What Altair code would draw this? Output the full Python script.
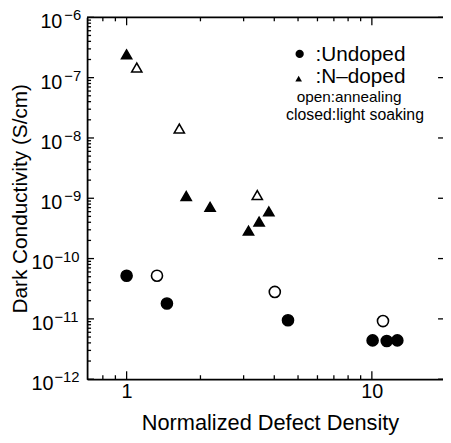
import altair as alt
import pandas as pd

# ---- data ----
undoped_closed_x = [1.0, 1.46, 4.55, 10.07, 11.5, 12.7]
undoped_closed_y = [5.2e-11, 1.8e-11, 9.5e-12, 4.4e-12, 4.3e-12, 4.4e-12]
undoped_open_x = [1.33, 4.02, 11.1]
undoped_open_y = [5.2e-11, 2.8e-11, 9.2e-12]
ndoped_closed_x = [1.0, 1.75, 2.19, 3.14, 3.47, 3.80]
ndoped_closed_y = [2.43e-7, 1.09e-9, 7.2e-10, 2.9e-10, 4.1e-10, 6.05e-10]
ndoped_open_x = [1.10, 1.64, 3.41]
ndoped_open_y = [1.47e-7, 1.43e-8, 1.13e-9]

y_exponents = [-6, -7, -8, -9, -10, -11, -12]
minor_mult = [2, 3, 4, 5, 6, 7, 8, 9]
x_major = [1, 10]
x_minor = [0.8, 0.9, 2, 3, 4, 5, 6, 7, 8, 9]
legend_lines = [":Undoped", ":N\u2013doped", "open:annealing", "closed:light soaking"]
x_title = "Normalized Defect Density"
y_title = "Dark Conductivity (S/cm)"

FONT = "Liberation Sans"
W, H = 360, 366

rows = []
for xs, ys, dop, st in [
    (undoped_closed_x, undoped_closed_y, "Undoped", "light soaking"),
    (undoped_open_x, undoped_open_y, "Undoped", "annealing"),
    (ndoped_closed_x, ndoped_closed_y, "N-doped", "light soaking"),
    (ndoped_open_x, ndoped_open_y, "N-doped", "annealing"),
]:
    for a, b in zip(xs, ys):
        rows.append({"x": a, "y": b, "dopant": dop, "state": st})
df = pd.DataFrame(rows)

xscale = alt.Scale(type="log", domain=[0.69, 19.5], nice=False)
yscale = alt.Scale(type="log", domain=[1e-12, 1e-6], nice=False)

xaxis = alt.Axis(
    values=x_major, format="d", ticks=False, grid=False,
    domain=True, domainColor="black", domainWidth=1.8,
    labelFont=FONT, labelFontSize=20, labelColor="black", labelPadding=3,
    title=x_title, titleFont=FONT, titleFontSize=22, titleFontWeight="normal",
    titleColor="black", titleX=185, titleY=51, titleBaseline="alphabetic", titleAlign="center")
yaxis = alt.Axis(
    labels=False, ticks=False, grid=False,
    domain=True, domainColor="black", domainWidth=1.8,
    title=y_title, titleFont=FONT, titleFontSize=21, titleFontWeight="normal",
    titleColor="black", titleX=-67, titleY=H / 2, titleAngle=-90,
    titleAlign="center", titleBaseline="middle")

def X(f):
    return alt.X(f, scale=xscale, axis=xaxis, title=x_title)

def Y(f):
    return alt.Y(f, scale=yscale, axis=yaxis, title=y_title)

points = alt.Chart(df).mark_point(filled=True, opacity=1, strokeWidth=1.6, stroke="black").encode(
    x=X("x:Q"),
    y=Y("y:Q"),
    shape=alt.Shape("dopant:N", scale=alt.Scale(domain=["Undoped", "N-doped"], range=["circle", "triangle-up"]), legend=None),
    fill=alt.Fill("state:N", scale=alt.Scale(domain=["light soaking", "annealing"], range=["black", "white"]), legend=None),
    size=alt.Size("dopant:N", scale=alt.Scale(domain=["Undoped", "N-doped"], range=[125, 105]), legend=None),
)

# ---- inward ticks ----
ymaj = pd.DataFrame({"v": [10.0 ** e for e in y_exponents]})
ymin = pd.DataFrame({"v": [m * 10.0 ** e for e in y_exponents if e < -6 for m in minor_mult]})
xmaj = pd.DataFrame({"v": x_major})
xmin = pd.DataFrame({"v": x_minor})

def yrule(d, x1, x2, sw=1.3):
    return alt.Chart(d).mark_rule(color="black", strokeWidth=sw).encode(
        y=Y("v:Q"), x=alt.value(x1), x2=alt.value(x2))

def xrule(d, y1, y2, sw=1.3):
    return alt.Chart(d).mark_rule(color="black", strokeWidth=sw).encode(
        x=X("v:Q"), y=alt.value(y1), y2=alt.value(y2))

ticks = [
    yrule(ymaj, 0, 7), yrule(ymin, 0, 4),
    yrule(ymaj, W, W - 5),
    xrule(xmaj, H, H - 8), xrule(xmin, H, H - 4),
    xrule(xmaj, 0, 8), xrule(xmin, 0, 4),
]

one = pd.DataFrame({"a": [0]})
top_border = alt.Chart(one).mark_rule(color="black", strokeWidth=1.8).encode(
    x=alt.value(0), x2=alt.value(W), y=alt.value(0))

# ---- y tick labels 10^n ----
lab = pd.DataFrame({"e": y_exponents})
lab["v"] = [10.0 ** e for e in y_exponents]
lab["lab"] = ["\u2212" + str(-e) for e in y_exponents]
single = lab[lab["e"] > -10]
double = lab[lab["e"] <= -10]

def ten(d, xp):
    return alt.Chart(d).mark_text(text="10", align="right", baseline="alphabetic", dy=11,
                                  font=FONT, fontSize=20, color="black").encode(
        y=Y("v:Q"), x=alt.value(xp))

def expo(d, xp):
    return alt.Chart(d).mark_text(align="left", baseline="alphabetic", dy=3,
                                  font=FONT, fontSize=15, color="black").encode(
        y=Y("v:Q"), x=alt.value(xp), text="lab:N")

ylabels = [ten(single, -25), expo(single, -23), ten(double, -34), expo(double, -33)]

# ---- legend / annotation ----
leg = [
    alt.Chart(one).mark_point(shape="circle", filled=True, size=70, color="black", opacity=1).encode(
        x=alt.value(215), y=alt.value(37)),
    alt.Chart(one).mark_point(shape="triangle-up", filled=True, size=45, color="black", opacity=1).encode(
        x=alt.value(214), y=alt.value(62)),
    alt.Chart(one).mark_text(text=legend_lines[0], align="right", baseline="alphabetic",
                             font=FONT, fontSize=21, color="black").encode(x=alt.value(322), y=alt.value(44)),
    alt.Chart(one).mark_text(text=legend_lines[1], align="right", baseline="alphabetic",
                             font=FONT, fontSize=21, color="black").encode(x=alt.value(322), y=alt.value(66)),
    alt.Chart(one).mark_text(text=legend_lines[2], align="center", baseline="alphabetic",
                             font=FONT, fontSize=15.5, color="black").encode(x=alt.value(265), y=alt.value(86)),
    alt.Chart(one).mark_text(text=legend_lines[3], align="center", baseline="alphabetic",
                             font=FONT, fontSize=16, color="black").encode(x=alt.value(271), y=alt.value(104)),
]

chart = alt.layer(points, *ticks, top_border, *ylabels, *leg).properties(
    width=W, height=H, autosize="none",
    padding={"left": 80, "top": 7, "right": 0, "bottom": 54},
    background="white",
).configure_view(strokeWidth=0)

chart.save("out.html", embed_options={"renderer": "svg", "actions": False})
